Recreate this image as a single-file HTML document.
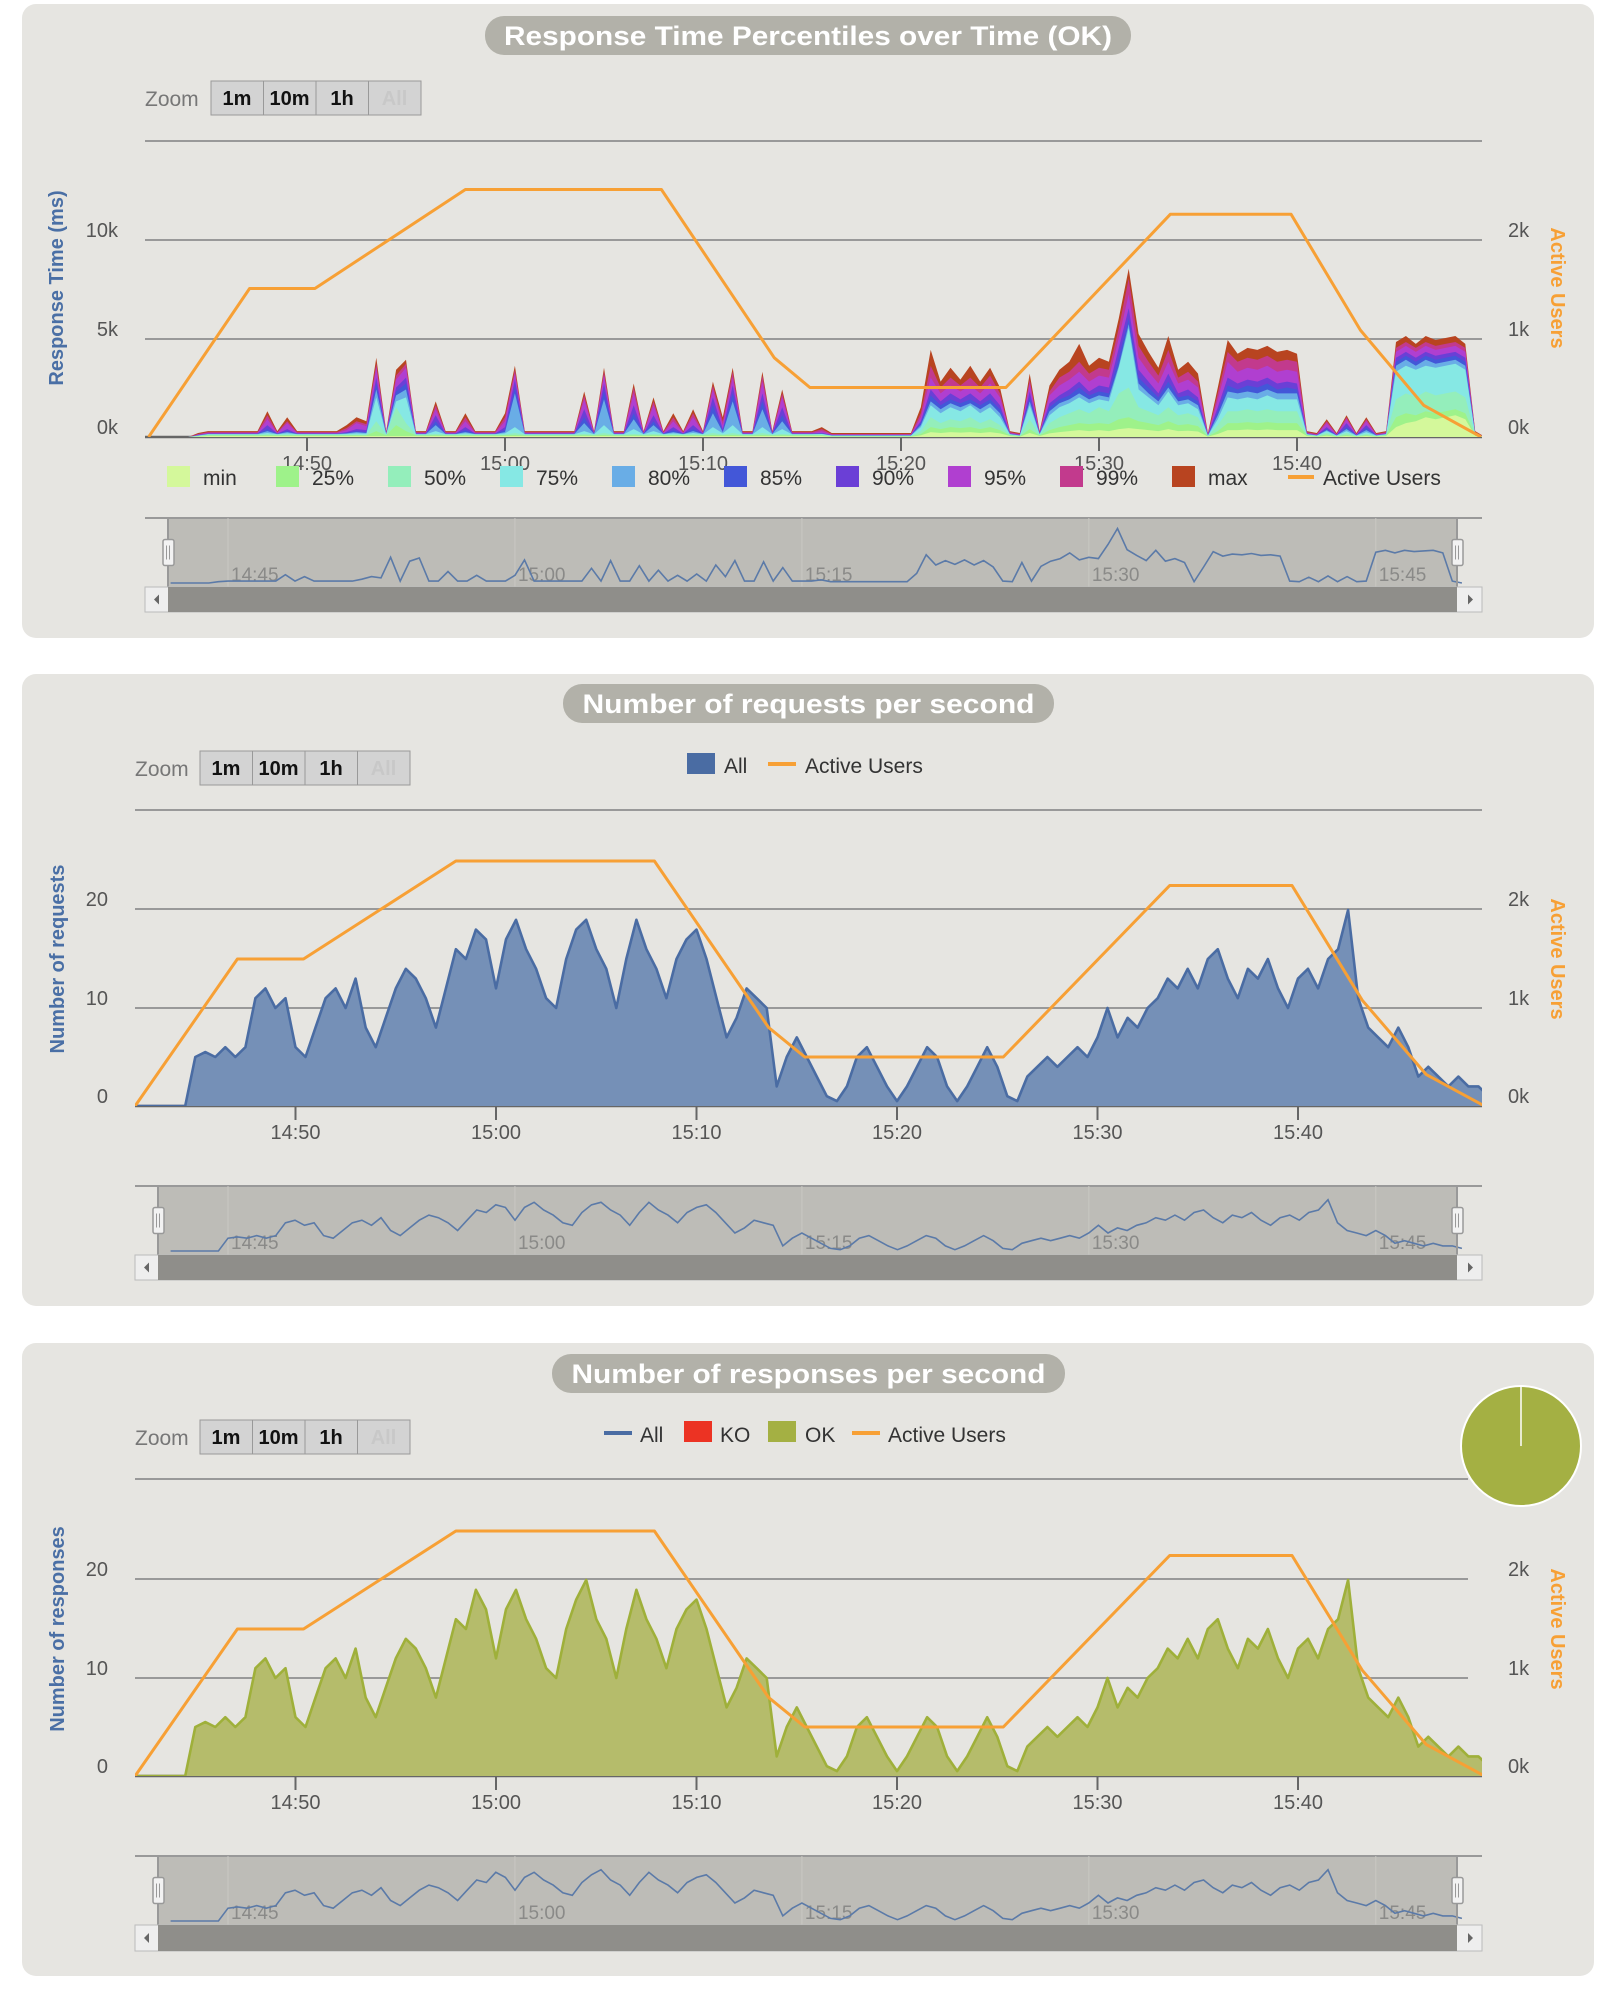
<!DOCTYPE html>
<html><head><meta charset="utf-8"><style>
html,body{margin:0;padding:0;background:#fff;}
svg{display:block;font-family:"Liberation Sans","DejaVu Sans",sans-serif;}
</style></head><body>
<svg id="root" width="1616" height="1999" viewBox="0 0 1616 1999" xmlns="http://www.w3.org/2000/svg"></svg>
<script>
// ---- data (time in minutes past 14:00, 30s steps starting 14:42) ----
const t0 = 42, step = 0.5;
const userTimes = [42,47.1,50.4,58,67.9,73.6,75.4,85.3,93.6,99.7,103.2,106.4,109.3];
const userValues = [0,1500,1500,2500,2500,800,500,500,2250,2250,1080,320,0];

const pMax = [0,0,0,0,0,200,300,300,300,300, 300,300,1300,300,1000,300,300,300,300,300, 600,1000,800,4000,300,3400,3900,300,300,1800, 300,300,1200,300,300,300,1200,3600,300,300, 300,300,300,300,2300,300,3500,300,300,2700, 300,2000,300,1200,300,1400,300,2800,1000,3500, 300,300,3300,300,2400,300,300,300,500,200, 200,200,200,200,200,200,200,200,1500,4400, 2800,3500,2900,3600,2800,3500,2500,300,200,3200, 300,2600,3400,3800,4700,3600,4000,3800,6000,8500, 5200,4300,3500,5100,3400,3800,3200,200,2500,4900, 4200,4500,4400,4600,4300,4400,4200,300,200,900, 200,1100,200,1000,200,300,4800,5100,4700,5100, 4900,5000,5100,4700,300,0];
const p99 = [0,0,0,0,0,150,250,250,250,250, 250,250,1100,250,800,250,250,250,250,250, 450,800,650,3700,250,3100,3700,250,250,1600, 250,250,1000,250,250,250,1000,3400,250,250, 250,250,250,250,2100,250,3300,250,250,2500, 250,1800,250,1000,250,1200,250,2600,800,3300, 250,250,3100,250,2200,250,250,250,400,150, 150,150,150,150,150,150,150,150,1200,3600, 2500,3000,2600,3000,2500,3100,2200,250,150,2900, 250,2300,3000,3300,3800,3200,3500,3400,5500,8000, 4600,3800,3100,4400,3000,3300,2800,150,2200,4300, 3800,4000,3900,4100,3800,3900,3800,250,150,800, 150,1000,150,900,150,250,4500,4800,4500,4800, 4600,4700,4800,4500,250,0];
const p95 = [0,0,0,0,0,120,200,200,200,200, 200,200,900,200,700,200,200,200,200,200, 350,700,550,3500,200,2900,3500,200,200,1400, 200,200,800,200,200,200,800,3200,200,200, 200,200,200,200,1900,200,3100,200,200,2200, 200,1600,200,800,200,1000,200,2400,600,3000, 200,200,2800,200,2000,200,200,200,300,120, 120,120,120,120,120,120,120,120,1000,3000, 2200,2600,2300,2600,2200,2700,2000,200,120,2700, 200,2100,2600,2900,3300,2800,3100,3000,5000,7200, 4000,3300,2700,3800,2700,2900,2500,120,1900,3800, 3300,3500,3400,3600,3300,3400,3300,200,120,700, 120,900,120,800,120,200,4300,4600,4300,4600, 4400,4500,4600,4300,200,0];
const p90 = [0,0,0,0,0,100,170,170,170,170, 170,170,600,170,400,170,170,170,170,170, 250,400,350,3000,170,2500,3000,170,170,1100, 170,170,500,170,170,170,500,2900,170,170, 170,170,170,170,1400,170,2700,170,170,1600, 170,1100,170,500,170,600,170,2000,400,2600, 170,170,2200,170,1500,170,170,170,200,100, 100,100,100,100,100,100,100,100,800,2400, 1800,2200,1900,2200,1800,2200,1600,170,100,2300, 170,1700,2100,2400,2800,2300,2600,2500,4500,6500, 3400,2800,2200,3200,2200,2400,2000,100,1500,3000, 2700,2900,2800,3000,2700,2800,2700,170,100,500, 100,700,100,600,100,170,4000,4300,4000,4300, 4100,4200,4300,4000,170,0];
const p85 = [0,0,0,0,0,90,160,160,160,160, 160,160,400,160,300,160,160,160,160,160, 200,300,250,2700,160,2300,2700,160,160,800, 160,160,350,160,160,160,350,2500,160,160, 160,160,160,160,1000,160,2300,160,160,1200, 160,800,160,350,160,400,160,1600,300,2200, 160,160,1800,160,1100,160,160,160,180,90, 90,90,90,90,90,90,90,90,700,2100, 1600,1900,1700,1900,1600,1900,1400,160,90,2000, 160,1500,1900,2100,2500,2100,2300,2200,4000,6000, 3000,2500,2000,2800,2000,2100,1800,90,1300,2600, 2400,2600,2500,2700,2400,2500,2400,160,90,400, 90,500,90,450,90,160,3800,4100,3800,4100, 3900,4000,4100,3800,160,0];
const p80 = [0,0,0,0,0,80,150,150,150,150, 150,150,300,150,250,150,150,150,150,150, 180,250,200,2400,150,2100,2400,150,150,600, 150,150,250,150,150,150,250,2200,150,150, 150,150,150,150,700,150,1900,150,150,900, 150,600,150,250,150,300,150,1200,250,1800, 150,150,1400,150,800,150,150,150,160,80, 80,80,80,80,80,80,80,80,600,1800, 1400,1700,1500,1700,1400,1700,1200,150,80,1800, 150,1300,1700,1900,2200,1900,2100,2000,3600,5700, 2700,2200,1800,2500,1800,1900,1600,80,1100,2300, 2200,2300,2200,2400,2200,2200,2200,150,80,350, 80,400,80,350,80,150,3600,3900,3600,3900, 3700,3800,3900,3600,150,0];
const p75 = [0,0,0,0,0,70,140,140,140,140, 140,140,200,140,180,140,140,140,140,140, 150,180,160,2000,140,1800,2000,140,140,300, 140,140,180,140,140,140,180,500,140,140, 140,140,140,140,300,140,600,140,140,400, 140,300,140,180,140,200,140,500,180,600, 140,140,500,140,400,140,140,140,150,70, 70,70,70,70,70,70,70,70,500,1600, 1200,1500,1300,1600,1200,1500,1000,140,70,1600, 140,1100,1500,1700,2000,1700,1900,1800,3500,5500, 2400,2000,1600,2300,1600,1700,1400,70,900,2000, 1900,2000,1900,2100,1900,1900,1900,140,70,300, 70,300,70,250,70,140,3300,3600,3400,3600, 3500,3600,3700,3400,140,0];
const p50 = [0,0,0,0,0,50,110,110,110,110, 110,110,130,110,120,110,110,110,110,110, 110,120,110,800,110,1500,700,110,110,150, 110,110,120,110,110,110,120,200,110,110, 110,110,110,110,150,110,200,110,110,150, 110,150,110,120,110,130,110,200,120,200, 110,110,200,110,150,110,110,110,110,50, 50,50,50,50,50,50,50,50,300,1000, 700,900,800,1000,700,900,600,110,50,900, 110,700,1000,1200,1400,1200,1500,1300,2200,2500, 1500,1300,1100,1500,1100,1200,1000,50,600,1300, 1300,1400,1300,1400,1300,1300,1300,110,50,200, 50,200,50,150,50,110,1900,2200,2000,2300, 2100,2200,2300,2000,110,0];
const p25 = [0,0,0,0,0,30,80,80,80,80, 80,80,90,80,85,80,80,80,80,80, 80,85,80,300,80,600,300,80,80,90, 80,80,85,80,80,80,85,100,80,80, 80,80,80,80,90,80,100,80,80,90, 80,90,80,85,80,90,80,100,85,100, 80,80,100,80,90,80,80,80,80,30, 30,30,30,30,30,30,30,30,150,500, 400,500,450,500,400,500,350,80,30,400, 80,350,500,600,700,650,700,650,900,1000, 800,700,600,800,600,650,550,30,300,700, 700,750,700,750,700,700,700,80,30,120, 30,100,30,90,30,80,1000,1200,1100,1300, 1200,1300,1400,1200,80,0];
const pMin = [0,0,0,0,0,20,50,50,50,50, 50,50,50,50,50,50,50,50,50,50, 50,50,50,50,50,50,50,50,50,50, 50,50,50,50,50,50,50,50,50,50, 50,50,50,50,50,50,50,50,50,50, 50,50,50,50,50,50,50,50,50,50, 50,50,50,50,50,50,50,50,50,20, 20,20,20,20,20,20,20,20,80,250, 200,250,220,250,200,250,180,50,20,200, 50,180,250,300,350,300,350,300,400,450, 400,350,300,400,300,320,280,20,150,350, 350,380,350,380,350,350,350,50,20,60, 20,50,20,50,20,50,500,700,800,1000, 900,1000,1100,900,50,0];

const requests = [0,0,0,0,0,0,5,5.5,5,6, 5,6,11,12,10,11,6,5,8,11, 12,10,13,8,6,9,12,14,13,11, 8,12,16,15,18,17,12,17,19,16, 14,11,10,15,18,19,16,14,10,15, 19,16,14,11,15,17,18,15,11,7, 9,12,11,10,2,5,7,5,3,1, 0.5,2,5,6,4,2,0.5,2,4,6, 5,2,0.5,2,4,6,4,1,0.5,3, 4,5,4,5,6,5,7,10,7,9, 8,10,11,13,12,14,12,15,16,13, 11,14,13,15,12,10,13,14,12,15, 16,20,11,8,7,6,8,6,3,4, 3,2,3,2,2,1];
const responses = [0,0,0,0,0,0,5,5.5,5,6, 5,6,11,12,10,11,6,5,8,11, 12,10,13,8,6,9,12,14,13,11, 8,12,16,15,19,17,12,17,19,16, 14,11,10,15,18,20,16,14,10,15, 19,16,14,11,15,17,18,15,11,7, 9,12,11,10,2,5,7,5,3,1, 0.5,2,5,6,4,2,0.5,2,4,6, 5,2,0.5,2,4,6,4,1,0.5,3, 4,5,4,5,6,5,7,10,7,9, 8,10,11,13,12,14,12,15,16,13, 11,14,13,15,12,10,13,14,12,15, 16,20,11,8,7,6,8,6,3,4, 3,2,3,2,2,1];

const pctNames = ['max','99%','95%','90%','85%','80%','75%','50%','25%','min'];
const pctSeries = [pMax,p99,p95,p90,p85,p80,p75,p50,p25,pMin];
const pctColors = ['#b84420','#c23a8d','#b03fd0','#6b3fd6','#4357d8','#69ade6','#86e8e4','#94eebb','#9ef28a','#d4f89b'];
const timeTicks = [50,60,70,80,90,100];
const tickLabels = ['14:50','15:00','15:10','15:20','15:30','15:40'];
const navTicks = [45,60,75,90,105];
const navLabels = ['14:45','15:00','15:15','15:30','15:45'];

// ---- helpers ----
const NS = 'http://www.w3.org/2000/svg';
const root = document.getElementById('root');
function el(tag, attrs, parent, text) {
  const e = document.createElementNS(NS, tag);
  for (const k in attrs) e.setAttribute(k, attrs[k]);
  if (text !== undefined) e.textContent = text;
  (parent || root).appendChild(e);
  return e;
}
function tOf(i){ return t0 + i*step; }

function panel(cfg) {
  const g = el('g', {});
  
  
  const bg = el('rect', {x:22, y:cfg.top, width:1572, height:cfg.h, rx:14, fill:'#e6e5e1'}, g);
  
  
  // title pill
  const tg = el('g', {}, g);
  
  
  el('rect', {x:cfg.tx0, y:cfg.ty, width:cfg.tx1-cfg.tx0, height:39, rx:19, fill:'#b2b1a9'}, tg);
  el('text', {x:(cfg.tx0+cfg.tx1)/2, y:cfg.ty+29, 'text-anchor':'middle', fill:'#fff', 'font-size':27, 'font-weight':'bold', textLength:cfg.tw, lengthAdjust:'spacingAndGlyphs'}, tg, cfg.title);
  // zoom
  const zg = el('g', {}, g);
  
  
  el('text', {x:cfg.zl, y:cfg.zy+25, fill:'#777', 'font-size':21}, zg, 'Zoom');
  const labels = ['1m','10m','1h','All'];
  for (let k=0;k<4;k++){
    const bx = cfg.zx + k*52.5;
    const b = el('g', {}, zg);
    
    
    el('rect', {x:bx, y:cfg.zy, width:52.5, height:34, fill:'#d3d3d3', stroke:'#999', 'stroke-width':1}, b);
    el('text', {x:bx+26, y:cfg.zy+24, 'text-anchor':'middle', 'font-size':20, 'font-weight':'bold', fill:k===3?'#c8c8c8':'#111'}, b, labels[k]);
  }
  return g;
}

function axes(g, cfg) {
  const X = cfg.X, base = cfg.base;
  // grid
  cfg.grid.forEach((gy, k) => {
    const line = el('line', {x1:cfg.x0, x2:cfg.gridX1 || cfg.x1, y1:gy, y2:gy, stroke:'#999', 'stroke-width':2}, g);
    
    
  });
  el('line', {x1:cfg.x0, x2:cfg.x1, y1:base, y2:base, stroke:'#666', 'stroke-width':2.5}, g);
  // left labels
  const ll = el('g', {}, g);
  
  
  cfg.leftLabels.forEach((lab, k) => {
    el('text', {x:cfg.llx, y:cfg.labelYs[k]-3, 'text-anchor':'end', 'font-size':20, fill:'#555'}, ll, lab);
  });
  const rl = el('g', {}, g);
  
  
  ['0k','1k','2k'].forEach((lab, k) => {
    el('text', {x:1508, y:cfg.labelYs[k]-3, 'font-size':20, fill:'#555'}, rl, lab);
  });
  const yt = el('text', {x:0, y:0, 'text-anchor':'middle', 'font-size':20, 'font-weight':'bold', fill:'#4a6fa5', transform:`translate(${cfg.ytx},${cfg.yty}) rotate(-90)`}, g, cfg.yTitle);
  
  
  const ut = el('text', {x:0, y:0, 'text-anchor':'middle', 'font-size':20, 'font-weight':'bold', fill:'#f7a035', transform:`translate(1551,${cfg.yty}) rotate(90)`}, g, 'Active Users');
  
  
  // x ticks
  const xg = el('g', {}, g);
  
  
  timeTicks.forEach((t, k) => {
    el('line', {x1:X(t), x2:X(t), y1:base, y2:base+14, stroke:'#666', 'stroke-width':2}, xg);
    el('text', {x:X(t), y:cfg.tickLabelY, 'text-anchor':'middle', 'font-size':20, fill:'#555'}, xg, tickLabels[k]);
  });
}

function areaPath(arr, X, Y, base) {
  let d = `M${X(tOf(0))},${base}`;
  arr.forEach((v, i) => { d += `L${X(tOf(i)).toFixed(1)},${Y(v).toFixed(1)}`; });
  d += `L${X(tOf(arr.length-1))},${base}Z`;
  return d;
}
function linePath(arr, X, Y) {
  return arr.map((v, i) => (i?'L':'M') + X(tOf(i)).toFixed(1) + ',' + Y(v).toFixed(1)).join('');
}
function usersPath(X, YU) {
  return userTimes.map((t, i) => (i?'L':'M') + X(t).toFixed(1) + ',' + YU(userValues[i]).toFixed(1)).join('');
}
function clip(id, x0, y0, x1, y1) {
  const c = el('clipPath', {id:id});
  el('rect', {x:x0, y:y0, width:x1-x0, height:y1-y0}, c);
}

function navigator(g, cfg, arr, maxV) {
  const ng = el('g', {}, g);
  
  
  const top = cfg.navTop, bot = cfg.navBot, sb = cfg.navSb;
  const hL = cfg.handleL, hR = 1457;
  el('rect', {x:hL, y:top, width:hR-hL, height:bot-top, fill:'#bdbcb7'}, ng);
  el('line', {x1:cfg.x0, x2:cfg.x1, y1:top, y2:top, stroke:'#999', 'stroke-width':2}, ng);
  const NX = t => 228 + (t-45)*19.13;
  navTicks.forEach((t, k) => {
    el('line', {x1:NX(t), x2:NX(t), y1:top, y2:bot, stroke:'#c9c8c3', 'stroke-width':1}, ng);
    el('text', {x:NX(t)+3, y:bot-6, 'font-size':19, fill:'#8a8a88'}, ng, navLabels[k]);
  });
  const NY = v => bot - 4 - v/maxV*(bot-top-10);
  const nl = el('path', {d:linePath(arr, NX, NY), fill:'none', stroke:'#5b7aa8', 'stroke-width':1.6}, ng);
  
  
  el('line', {x1:hL, x2:hL, y1:top, y2:bot, stroke:'#999', 'stroke-width':2}, ng);
  el('line', {x1:hR, x2:hR, y1:top, y2:bot, stroke:'#999', 'stroke-width':2}, ng);
  [hL, hR].forEach(hx => {
    const h = el('g', {}, ng);
    
    
    el('rect', {x:hx-5, y:(top+bot)/2-13, width:11, height:26, rx:2, fill:'#f2f2f2', stroke:'#999', 'stroke-width':1.5}, h);
    el('line', {x1:hx-1.5, x2:hx-1.5, y1:(top+bot)/2-7, y2:(top+bot)/2+7, stroke:'#999'}, h);
    el('line', {x1:hx+1.5, x2:hx+1.5, y1:(top+bot)/2-7, y2:(top+bot)/2+7, stroke:'#999'}, h);
  });
  const sg = el('g', {}, ng);
  
  
  el('rect', {x:cfg.x0, y:bot, width:cfg.x1-cfg.x0, height:sb-bot, fill:'#eeeeee', stroke:'#bbb'}, sg);
  el('rect', {x:hL, y:bot, width:hR-hL, height:sb-bot, fill:'#8f8e8a'}, sg);
  el('path', {d:`M${cfg.x0+14},${(bot+sb)/2-5}L${cfg.x0+9},${(bot+sb)/2}L${cfg.x0+14},${(bot+sb)/2+5}Z`, fill:'#666'}, sg);
  el('path', {d:`M${cfg.x1-14},${(bot+sb)/2-5}L${cfg.x1-9},${(bot+sb)/2}L${cfg.x1-14},${(bot+sb)/2+5}Z`, fill:'#666'}, sg);
}

// ================= Panel 1 =================
(function(){
  const cfg = {name:'response-time-percentiles-panel', top:4, h:634, title:'Response Time Percentiles over Time (OK)', tx0:485, tx1:1131, ty:16, tw:608,
    zl:145, zx:211, zy:81, x0:145, x1:1482, base:437, grid:[141,240,339], labelYs:[437,339,240],
    leftLabels:['0k','5k','10k'], llx:118, ytx:63, yty:288, yTitle:'Response Time (ms)', tickLabelY:470,
    navTop:518, navBot:587, navSb:612, handleL:168};
  cfg.X = t => 505 + (t-60)*19.8;
  const Y = v => 437 - v/5000*99;
  const YU = u => 437 - u/1000*99;
  const g = panel(cfg);
  axes(g, cfg);
  clip('c1', cfg.x0, 120, cfg.x1, 437);
  const sg = el('g', {'clip-path':'url(#c1)'}, g);
  pctSeries.forEach((arr, k) => {
    const p = el('path', {d:areaPath(arr, cfg.X, Y, 437), fill:pctColors[k]}, sg);
    
    
  });
  const u = el('path', {d:usersPath(cfg.X, YU), fill:'none', stroke:'#f7a035', 'stroke-width':3, 'stroke-linejoin':'round'}, sg);
  
  
  // legend
  const lg = el('g', {}, g);
  
  
  const legX = [167,276,388,500,612,724,836,948,1060,1172];
  const legOrder = [9,8,7,6,5,4,3,2,1,0];
  legOrder.forEach((si, k) => {
    const e = el('g', {}, lg);
    
    
    el('rect', {x:legX[k], y:466, width:23, height:21, fill:pctColors[si]}, e);
    el('text', {x:legX[k]+36, y:485, 'font-size':21, fill:'#333'}, e, pctNames[si]);
  });
  const ae = el('g', {}, lg);
  
  
  el('line', {x1:1288, x2:1314, y1:477, y2:477, stroke:'#f7a035', 'stroke-width':4}, ae);
  el('text', {x:1323, y:485, 'font-size':21, fill:'#333'}, ae, 'Active Users');
  navigator(g, cfg, pMax, 9200);
})();

// ================= Panels 2 and 3 =================
function countPanel(cfg, arr, stroke, fill) {
  cfg.X = t => 496 + (t-60)*20.05;
  const s = (cfg.base - cfg.grid[2]) / 10;
  const Y = v => cfg.base - v*s;
  const YU = u => cfg.base - u/1000*s*10;
  const g = panel(cfg);
  axes(g, cfg);
  const cid = 'c' + cfg.top;
  clip(cid, cfg.x0, cfg.base-340, cfg.x1, cfg.base);
  const sg = el('g', {'clip-path':`url(#${cid})`}, g);
  const a = el('path', {d:areaPath(arr, cfg.X, Y, cfg.base), fill:fill}, sg);
  
  
  const l = el('path', {d:linePath(arr, cfg.X, Y), fill:'none', stroke:stroke, 'stroke-width':2.6, 'stroke-linejoin':'round'}, sg);
  
  
  const u = el('path', {d:usersPath(cfg.X, YU), fill:'none', stroke:'#f7a035', 'stroke-width':3, 'stroke-linejoin':'round'}, sg);
  
  
  navigator(g, cfg, arr, 23);
  return g;
}

(function(){
  const cfg = {name:'requests-per-second-panel', top:674, h:632, title:'Number of requests per second', tx0:563, tx1:1054, ty:684, tw:452,
    zl:135, zx:200, zy:751, x0:135, x1:1482, base:1106, grid:[810,909,1008], labelYs:[1106,1008,909],
    leftLabels:['0','10','20'], llx:108, ytx:64, yty:959, yTitle:'Number of requests', tickLabelY:1139,
    navTop:1186, navBot:1255, navSb:1280, handleL:158, seriesName:'requests'};
  const g = countPanel(cfg, requests, '#4a6ca3', '#7590b7');
  const lg = el('g', {}, g);
  
  
  const e1 = el('g', {}, lg);
  
  
  el('rect', {x:687, y:753, width:28, height:21, fill:'#4a6ca3'}, e1);
  el('text', {x:724, y:773, 'font-size':21, fill:'#333'}, e1, 'All');
  const e2 = el('g', {}, lg);
  
  
  el('line', {x1:768, x2:796, y1:764, y2:764, stroke:'#f7a035', 'stroke-width':4}, e2);
  el('text', {x:805, y:773, 'font-size':21, fill:'#333'}, e2, 'Active Users');
})();

(function(){
  const cfg = {name:'responses-per-second-panel', top:1343, h:633, title:'Number of responses per second', tx0:552, tx1:1065, ty:1354, tw:474,
    zl:135, zx:200, zy:1420, x0:135, x1:1482, gridX1:1468, base:1776, grid:[1479,1579,1678], labelYs:[1776,1678,1579],
    leftLabels:['0','10','20'], llx:108, ytx:64, yty:1629, yTitle:'Number of responses', tickLabelY:1809,
    navTop:1856, navBot:1925, navSb:1951, handleL:158, seriesName:'responses-ok'};
  const g = countPanel(cfg, responses, '#9fb03a', '#b5bc6b');
  const lg = el('g', {}, g);
  
  
  const items = [['all','line','#4a6ca3',604,'All',640],['ko','rect','#ec3323',684,'KO',720],['ok','rect','#a4b043',768,'OK',805],['active-users','line','#f7a035',852,'Active Users',888]];
  items.forEach(it => {
    const e = el('g', {}, lg);
    
    
    if (it[1]==='line') el('line', {x1:it[3], x2:it[3]+28, y1:1433, y2:1433, stroke:it[2], 'stroke-width':4}, e);
    else el('rect', {x:it[3], y:1421, width:28, height:21, fill:it[2]}, e);
    el('text', {x:it[5], y:1442, 'font-size':21, fill:'#333'}, e, it[4]);
  });
  const pie = el('g', {}, g);
  
  
  el('circle', {cx:1521, cy:1446, r:60, fill:'#a4b043', stroke:'#fff', 'stroke-width':2}, pie);
  el('line', {x1:1521, x2:1521, y1:1386, y2:1446, stroke:'#fff', 'stroke-width':1.5}, pie);
})();
</script>
</body></html>
